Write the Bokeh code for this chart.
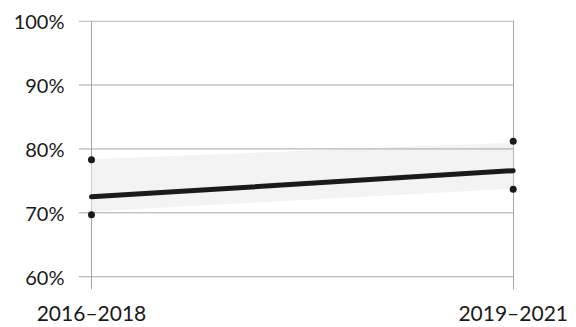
from bokeh.plotting import figure
from bokeh.models import Range1d, FixedTicker
from bokeh.embed import file_html
from bokeh.resources import INLINE

# data
periods = ["2016–2018", "2019–2021"]
x_pos = [0, 1]
trend = [72.5, 76.6]
band_low = [70.2, 73.8]
band_high = [78.4, 81.0]
upper_points = [78.3, 81.2]
lower_points = [69.7, 73.7]
y_ticks = [60, 70, 80, 90, 100]
y_tick_labels = ["60%", "70%", "80%", "90%", "100%"]

FONT = "Lato"
INK = "#1a1a1a"
GRID = "#a6a6a6"

X_START, X_END = -0.0308, 1.0173

p = figure(width=576, height=327, output_backend="svg", toolbar_location=None,
           x_range=Range1d(X_START, X_END), y_range=Range1d(58.0, 100.1),
           min_border_left=78, min_border_right=56, min_border_top=20,
           min_border_bottom=35)
p.outline_line_color = None
p.background_fill_color = "white"
p.border_fill_color = "white"

# band
p.varea(x=x_pos, y1=band_low, y2=band_high, fill_color="#f3f3f3")

# axes
p.yaxis.ticker = FixedTicker(ticks=y_ticks)
p.yaxis.major_label_overrides = {t: l for t, l in zip(y_ticks, y_tick_labels)}
p.xaxis.ticker = FixedTicker(ticks=x_pos)
p.xaxis.major_label_overrides = {x: l for x, l in zip(x_pos, periods)}
for ax in (p.xaxis, p.yaxis):
    ax.axis_line_color = None
    ax.major_tick_line_color = None
    ax.minor_tick_line_color = None
    ax.major_label_text_font = FONT
    ax.major_label_text_color = INK
p.yaxis.major_label_text_font_size = "20px"
p.xaxis.major_label_text_font_size = "21px"
p.yaxis.major_label_standoff = 8
p.xaxis.major_label_standoff = 4

# horizontal gridlines stop at the last period; vertical ones at each period
p.ygrid.grid_line_color = None
p.segment(x0=[X_START] * len(y_ticks), x1=[x_pos[-1]] * len(y_ticks),
          y0=y_ticks, y1=y_ticks, line_color=GRID, line_width=1)
p.xgrid.ticker = FixedTicker(ticks=x_pos)
p.xgrid.grid_line_color = GRID
p.xgrid.grid_line_width = 1

# trend line and points
p.line(x=x_pos, y=trend, line_color=INK, line_width=5, line_cap="round")
p.scatter(x=x_pos + x_pos, y=upper_points + lower_points, size=7,
          fill_color=INK, line_color=None)

open("out.html", "w").write(file_html(p, INLINE))
